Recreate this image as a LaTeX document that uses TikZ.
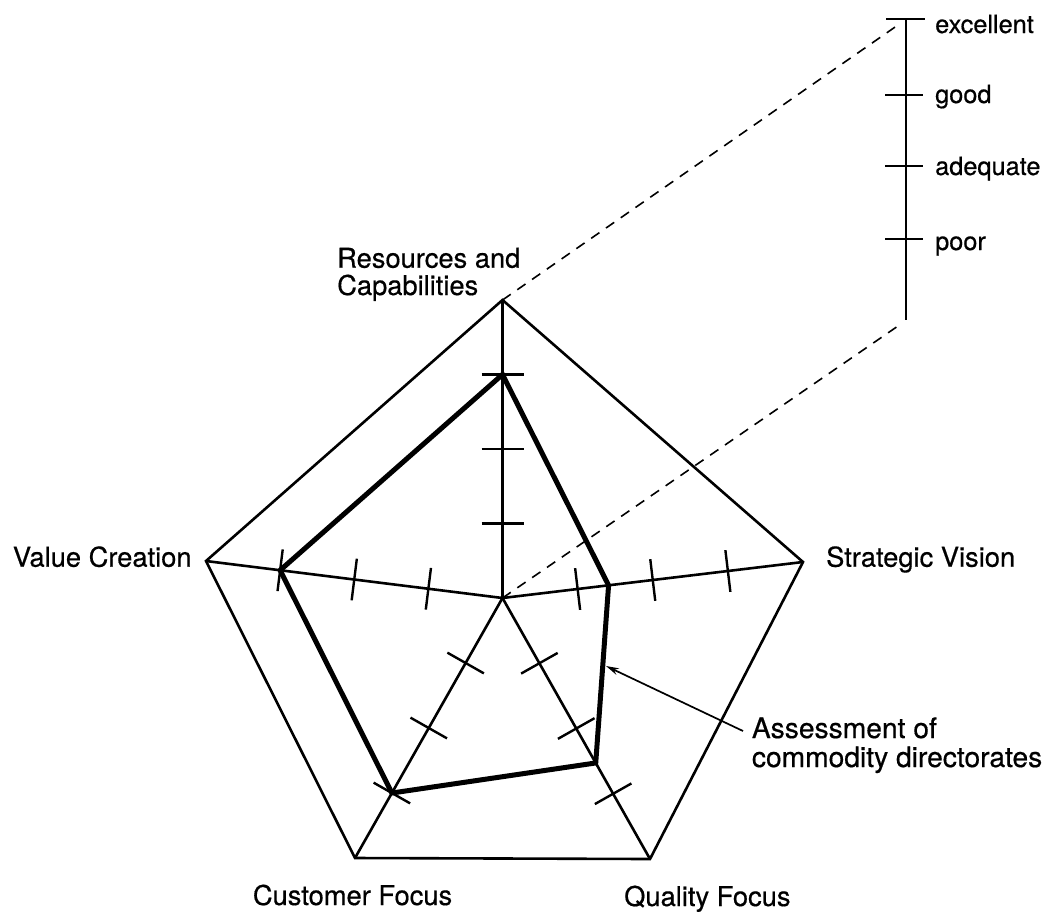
\documentclass[tikz,border=0pt]{standalone}
\usepackage{fontspec}
\setmainfont{TeX Gyre Heros}[FakeBold=0.5]
\usetikzlibrary{arrows.meta,calc}
\begin{document}
\begin{tikzpicture}[x=1pt,y=-1pt,
  frame/.style={line width=2.6pt, line join=miter},
  spoke/.style={line width=2.6pt},
  profile/.style={line width=5pt, line join=miter},
  guide/.style={line width=1.6pt, dash pattern=on 10pt off 8pt},
  tickmark/.style={line width=2.4pt},
  scaleline/.style={line width=1.8pt},
  lbl/.style={inner sep=0pt, anchor=base west, font=\fontsize{27.3}{30}\selectfont},
  biglbl/.style={inner sep=0pt, anchor=base west, font=\fontsize{28.2}{30}\selectfont},
  scalelbl/.style={inner sep=0pt, anchor=base west, font=\fontsize{25.3}{28}\selectfont},
  pointer/.style={line width=1.7pt, -{Stealth[length=13pt,width=7pt]}}
]
\useasboundingbox (0,0) rectangle (1049,911);

% centre and outer vertices of the pentagon
\coordinate (C)  at (502.5,598);
\coordinate (T)  at (502.5,300);
\coordinate (R)  at (803,562);
\coordinate (BR) at (650,859);
\coordinate (BL) at (355,858);
\coordinate (L)  at (206,561);

% rating scale
\coordinate (S0) at (906,19);
\coordinate (S1) at (906,95);
\coordinate (S2) at (906,166);
\coordinate (S3) at (906,239);
\coordinate (S4) at (906,320);

% dashed projection lines
\coordinate (G0) at (898,25);
\coordinate (G4) at (898,326);
\draw[guide] (T) -- (G0);
\draw[guide] (C) -- (G4);

% outer frame and spokes
\draw[frame] (T) -- (R) -- (BR) -- (BL) -- (L) -- cycle;
\foreach \v in {T,R,BR,BL,L}
  \draw[spoke] (C) -- (\v);

% quarter ticks on each spoke
\foreach \v in {T,R,BR,BL,L}
  \foreach \f in {0.25,0.5,0.75}
    \draw[tickmark] ($(C)!\f!(\v)!21pt!90:(\v)$) -- ($(C)!\f!(\v)!21pt!-90:(\v)$);

% assessment profile
\coordinate (pT)  at ($(C)!0.75!(T)$);
\coordinate (pR)  at ($(C)!0.353!(R)$);
\coordinate (pBR) at ($(C)!0.632!(BR)$);
\coordinate (pBL) at ($(C)!0.75!(BL)$);
\coordinate (pL)  at ($(C)!0.75!(L)$);
\draw[profile] (pT) -- (pR) -- (pBR) -- (pBL) -- (pL) -- cycle;

% axis labels
\node[lbl] (rc1) at (337,267.7) {Resources and};
\node[lbl] (rc2) at (337,295) {Capabilities};
\node[lbl] (vc) at (12.7,566.7) {Value Creation};
\node[lbl] (sv) at (826,566.7) {Strategic Vision};
\node[lbl] (cf) at (252.7,905) {Customer Focus};
\node[lbl] (qf) at (624,906) {Quality Focus};

% annotation
\node[biglbl] (as1) at (751.7,738) {Assessment of};
\node[biglbl] (as2) at (751.7,767) {commodity directorates};
\coordinate (tail) at (743,731);
\coordinate (hit) at (606,666);
\draw[pointer] (tail) -- (hit);

% scale with its ticks
\draw[scaleline] (S0) -- (S4);
\draw[line width=2.6pt] ($(S0)+(-20,0)$) -- ($(S0)+(19,0)$);
\foreach \s in {S1,S2,S3}
  \draw[tickmark] ($(\s)+(-21,0)$) -- ($(\s)+(17,0)$);
\node[scalelbl] (ex) at (935,33) {excellent};
\node[scalelbl] (gd) at (935,103) {good};
\node[scalelbl] (ad) at (935,175) {adequate};
\node[scalelbl] (pr) at (935,250) {poor};
\end{tikzpicture}
\end{document}
